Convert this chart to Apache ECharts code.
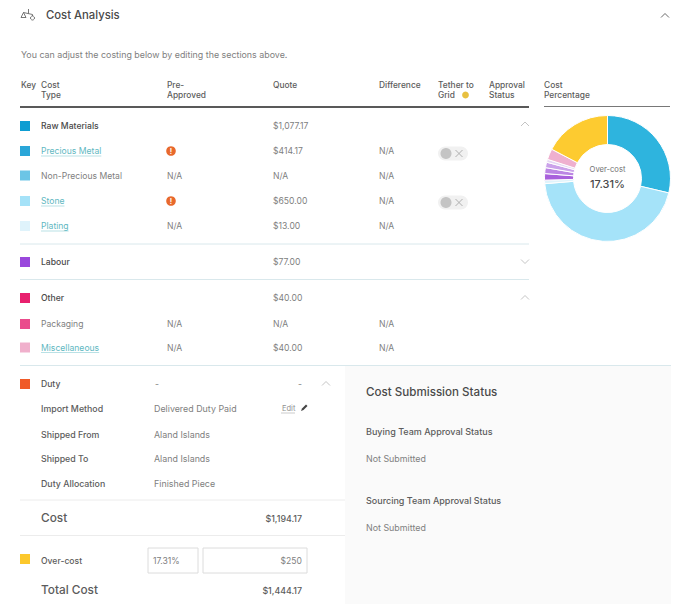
<!DOCTYPE html>
<html><head><meta charset="utf-8">
<style>html,body{margin:0;padding:0;background:#fff}#c{width:688px;height:604px}</style>
<script src="https://cdn.jsdelivr.net/npm/echarts@6/dist/echarts.min.js"></script>
</head><body><div id="c"></div>
<script>
const FONT = 'Inter, "Noto Sans", sans-serif';
// chart values
const sliceNames = ['Precious Metal','Stone','Plating','Labour A','Labour B','Labour C','Labour D','Miscellaneous','Over-cost'];
const sliceValues = [414.17,650,13,24,22,20,11,40,250];
const sliceColors = ['#2eb4de','#a5e3f9','#dff3fb','#a860dc','#bb85e4','#cba2ea','#e6d8f4','#efb0cf','#fdcb30'];
const centerTitle = 'Over-cost';
const centerValue = '17.31%';
// table text
const headers = [[21,['Key']],[41,['Cost','Type']],[167,['Pre-','Approved']],[273,['Quote']],[379,['Difference']],[438,['Tether to','Grid']],[489,['Approval','Status']],[544,['Cost','Percentage']]];
const rowNames = ['Raw Materials','Precious Metal','Non-Precious Metal','Stone','Plating','Labour','Other','Packaging','Miscellaneous'];
const rowY = [126,151,175.5,201,226,262,298,324,347.5];
const rowKinds = ['head','link','plain','link','link','head','head','plain','link'];
const rowKeys = ['#0e9dd2','#2aa6d8','#6cc5e6','#a5e2f8','#dff3fb','#9a48dc','#e8206e','#ea4c8c','#f0b0cc'];
const rowPre = ['','!','N/A','!','N/A','','','N/A','N/A'];
const rowQuote = ['$1,077.17','$414.17','N/A','$650.00','$13.00','$77.00','$40.00','N/A','$40.00'];
const rowDiff = ['','N/A','N/A','N/A','N/A','','','N/A','N/A'];
const dutyLabels = ['Import Method','Shipped From','Shipped To','Duty Allocation'];
const dutyValues = ['Delivered Duty Paid','Aland Islands','Aland Islands','Finished Piece'];
const dutyY = [408.5,434,458,483.5];
const statusTitles = ['Buying Team Approval Status','Sourcing Team Approval Status'];
const statusValues = ['Not Submitted','Not Submitted'];

const g = [];
const T = (x,y,text,o={}) => g.push({type:'text',x,y,z:5,style:{text,font:`${o.w||400} ${o.s||8.6}px ${FONT}`,fill:o.c||'#808080',align:o.a||'left',verticalAlign:'middle'}});
const L = (x1,y1,x2,y2,c,w=1) => g.push({type:'line',z:3,shape:{x1,y1,x2,y2},style:{stroke:c,lineWidth:w}});
const R = (x,y,w,h,c,o={}) => g.push({type:'rect',z:o.z||3,shape:{x,y,width:w,height:h,r:o.r||0},style:{fill:c,stroke:o.st||null,lineWidth:o.st?1:0}});
const C = (cx,cy,r,c) => g.push({type:'circle',z:4,shape:{cx,cy,r},style:{fill:c}});
const chev = (x,y,up,c='#b5b5b5') => g.push({type:'polyline',z:4,shape:{points: up?[[x-4,y+2.5],[x,y-1.5],[x+4,y+2.5]]:[[x-4,y-1.5],[x,y+2.5],[x+4,y-1.5]]},style:{stroke:c,fill:null,lineWidth:.8}});
const mctx = document.createElement('canvas').getContext('2d');
const textW = (t,s) => { mctx.font = `400 ${s}px ${FONT}`; return mctx.measureText(t).width; };

// panel
R(345,366,326,238,'#fafafa',{z:1});
// title bar
T(46,15,'Cost Analysis',{s:11.3,c:'#4a4a4a',w:500});
chev(665,15,true,'#444');
// scale icon
L(23.5,12.5,32.5,14.5,'#555',.8);
L(28.5,9,28.5,13.5,'#555',.8);
g.push({type:'polygon',z:4,shape:{points:[[23.5,12.5],[21,17.5],[26,17.5]]},style:{fill:'none',stroke:'#555',lineWidth:.8}});
L(32.5,14.5,32.5,16,'#555',.8);
g.push({type:'circle',z:4,shape:{cx:32.5,cy:18,r:2},style:{fill:'none',stroke:'#555',lineWidth:.8}});
T(21,54.5,'You can adjust the costing below by editing the sections above.',{s:8.9});
// headers
headers.forEach(([x,ls])=>ls.forEach((t,i)=>T(x,85+i*10,t,{c:'#5c5c5c',s:8.4,w:500})));
C(465.5,95,3.4,'#e8c040');
L(20,107,529,107,'#222',1.6);
L(544,106.5,670,106.5,'#555',.8);
// rows
rowNames.forEach((n,i)=>{
  const y=rowY[i];
  R(20,y-5,10,10,rowKeys[i]);
  const k=rowKinds[i];
  if(k==='head') T(41,y,n,{c:'#4a4a4a',w:500,s:8.6});
  else if(k==='link'){
    T(41,y,n,{c:'#5fb8c2',s:8.6});
    L(41,y+5,41+textW(n,8.6),y+5,'#8accd4',.6);
  } else T(41,y,n,{s:8.6});
  if(rowPre[i]==='!'){C(171,y,4.8,'#e8692c');T(171,y+.3,'!',{c:'#fff',a:'center',s:7,w:700});}
  else if(rowPre[i]) T(167,y,rowPre[i]);
  T(273,y,rowQuote[i]);
  if(rowDiff[i]) T(379,y,rowDiff[i]);
});
// toggles
[153.5,202.5].forEach(y=>{
  R(438,y-7,30,14,'#f1f1f1',{r:7});
  C(446,y,5.5,'#c4c4c4');
  L(455.5,y-3.5,462.5,y+3.5,'#b0b0b0',1); L(455.5,y+3.5,462.5,y-3.5,'#b0b0b0',1);
});
chev(525,123.5,true); chev(525,261,false); chev(525,297,true);
// separators
L(20,244,529,244,'#d9e8ec',1); L(20,279.5,529,279.5,'#d9e8ec',1); L(20,365.5,671,365.5,'#d9e8ec',1);
// duty
R(20,379,10,10,'#f05a28');
T(41,384,'Duty',{c:'#555',w:500});
T(155,384,'-'); T(302,384,'-',{a:'right'});
chev(326,383,true);
dutyLabels.forEach((t,i)=>{T(41,dutyY[i],t,{c:'#5c5c5c',w:500,s:8.8});T(154,dutyY[i],dutyValues[i],{s:8.9});});
T(282,408,'Edit',{s:7.5,c:'#909090'}); L(281,413,295,413,'#aaa',.6);
g.push({type:'polygon',z:4,shape:{points:[[301,411],[302,408.5],[306,404.5],[307.5,406],[303.5,410]]},style:{fill:'#444'}});
L(20,500,345,500,'#ececec',1); L(20,535.5,345,535.5,'#ececec',1);
T(41,518,'Cost',{s:11.8,c:'#5c5c5c',w:500});
T(302,518,'$1,194.17',{a:'right',c:'#5c5c5c',w:500,s:8.8});
R(20,554,10,10,'#fcc82c');
T(41,560.5,'Over-cost',{c:'#5c5c5c',w:500,s:8.6});
R(148,548,50,25,'#fff',{st:'#dcdcdc'}); R(203,548,104,25,'#fff',{st:'#dcdcdc'});
T(153,560.5,'17.31%'); T(302,560.5,'$250',{a:'right'});
T(41,590,'Total Cost',{s:11.8,c:'#5c5c5c',w:500});
T(302,590,'$1,444.17',{a:'right',c:'#5c5c5c',w:500,s:8.8});
// status
T(366,391.5,'Cost Submission Status',{s:11.6,c:'#4a4a4a',w:500});
statusTitles.forEach((t,i)=>{T(366,431+i*69,t,{c:'#5c5c5c',w:500,s:9});T(366,458+i*69,statusValues[i],{s:8.9});});
// donut centre
T(607.5,169,centerTitle,{a:'center',s:7.6,c:'#707070'});
T(607.5,184,centerValue,{a:'center',s:11,c:'#4a4a4a',w:500});

const chart = echarts.init(document.getElementById('c'),null,{renderer:'svg',width:688,height:604});
chart.setOption({
  animation:false,
  graphic:{elements:g},
  series:[{type:'pie',center:[607.5,178.5],radius:[34,63],startAngle:90,clockwise:true,silent:true,
    label:{show:false},labelLine:{show:false},
    itemStyle:{borderColor:'#fff',borderWidth:1},
    data:sliceNames.map((name,i)=>({name,value:sliceValues[i],itemStyle:{color:sliceColors[i]}}))}]
});
</script></body></html>
